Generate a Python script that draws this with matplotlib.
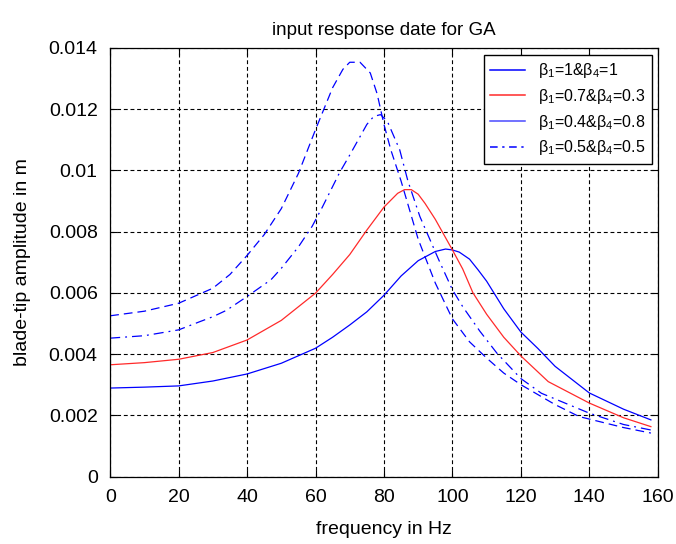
import matplotlib
matplotlib.use("Agg")
import matplotlib.pyplot as plt
from matplotlib.lines import Line2D

plt.rcParams['font.family'] = ['Liberation Sans', 'DejaVu Sans']
plt.rcParams['mathtext.fontset'] = 'custom'
plt.rcParams['mathtext.rm'] = 'Liberation Sans'
plt.rcParams['mathtext.it'] = 'Liberation Sans:italic'

# beta1=1 & beta4=1 (solid blue)
freq_a = [0, 10, 20, 30, 40, 50, 60, 65, 70, 75, 80, 85, 90, 95, 98, 100,
          102, 105, 107.5, 110, 115, 120, 125, 130, 140, 150, 158]
amp_a = [0.00289, 0.00292, 0.00296, 0.00312, 0.00335, 0.00370, 0.00419,
         0.00455, 0.00495, 0.00538, 0.00592, 0.00655, 0.00705, 0.00735,
         0.00743, 0.00740, 0.00733, 0.00710, 0.00675, 0.00638, 0.00548,
         0.00472, 0.00418, 0.00360, 0.00273, 0.00220, 0.00185]

# beta1=0.7 & beta4=0.3 (solid red)
freq_b = [0, 10, 20, 30, 40, 50, 60, 65, 70, 75, 80, 84, 86, 88, 90, 92,
          95, 97, 100, 103, 106, 110, 115, 120, 128, 140, 150, 158]
amp_b = [0.00365, 0.00372, 0.00383, 0.00405, 0.00446, 0.00510, 0.00599,
         0.00660, 0.00725, 0.00805, 0.00880, 0.00925, 0.00937, 0.00937,
         0.00922, 0.00892, 0.00840, 0.00800, 0.00740, 0.00678, 0.00600,
         0.00530, 0.00455, 0.00394, 0.00310, 0.00240, 0.00192, 0.00163]

# beta1=0.4 & beta4=0.8 (dashed blue)
freq_c = [0, 10, 20, 30, 35, 40, 45, 50, 55, 60, 65, 68, 70, 73, 76, 78,
          80, 82, 85, 90, 95, 100, 105, 110, 115, 120, 130, 137, 150, 158]
amp_c = [0.00525, 0.00540, 0.00566, 0.00615, 0.00660, 0.00722, 0.00790,
         0.00875, 0.00990, 0.01133, 0.01270, 0.01330, 0.01353, 0.01353,
         0.01318, 0.01250, 0.01150, 0.01067, 0.00965, 0.00775, 0.00632,
         0.00515, 0.00440, 0.00387, 0.00338, 0.00300, 0.00235, 0.00196,
         0.00160, 0.00142]

# beta1=0.5 & beta4=0.5 (dash-dot blue)
freq_d = [0, 10, 20, 26, 30, 34, 40, 47, 50, 55, 59, 62, 67, 70, 73, 75,
          77, 79, 81, 84.6, 87, 90.5, 96, 100, 103, 108, 113, 120, 126, 140,
          150, 158]
amp_d = [0.00452, 0.00460, 0.00479, 0.00505, 0.00522, 0.00543, 0.00588,
         0.00643, 0.00680, 0.00750, 0.00817, 0.00880, 0.00992, 0.01050,
         0.01110, 0.01150, 0.01176, 0.01182, 0.01160, 0.01067, 0.00965,
         0.00849, 0.00708, 0.00610, 0.00555, 0.00475, 0.00403, 0.00320,
         0.00272, 0.00207, 0.00170, 0.00152]

labels = [r'β$_1$=1&β$_4$=1', r'β$_1$=0.7&β$_4$=0.3',
          r'β$_1$=0.4&β$_4$=0.8', r'β$_1$=0.5&β$_4$=0.5']

xticks = [0, 20, 40, 60, 80, 100, 120, 140, 160]
yticks = [0, 0.002, 0.004, 0.006, 0.008, 0.01, 0.012, 0.014]
ytick_labels = ['0', '0.002', '0.004', '0.006', '0.008', '0.01', '0.012', '0.014']

fig = plt.figure(figsize=(6.76, 5.44), dpi=100)
ax = fig.add_axes([0.163, 0.124, 0.810, 0.788])

blue = '#0000ff'
red = '#ff2a2a'
lblue = '#4a4aff'

ax.plot(freq_a, amp_a, color=blue, lw=0.9)
ax.plot(freq_b, amp_b, color=red, lw=0.9)
ax.plot(freq_c, amp_c, color=blue, lw=0.9, linestyle=(0, (7, 4)))
ax.plot(freq_d, amp_d, color=blue, lw=0.9, linestyle=(0, (8, 4, 1.5, 4)))

ax.set_xlim(0, 160)
ax.set_ylim(0, 0.014)
ax.set_xticks(xticks)
ax.set_yticks(yticks)
ax.set_yticklabels(ytick_labels)
ax.tick_params(direction='in', length=5, width=0.8, top=True, right=True,
               labelsize=14, pad=9, colors='black')
ax.grid(True, color='black', linestyle=(0, (3.5, 2.5)), lw=0.8)
for sp in ax.spines.values():
    sp.set_linewidth(0.9)

ax.set_title('input response date for GA', fontsize=13.5, pad=9)
ax.set_xlabel('frequency in Hz', fontsize=14, labelpad=11)
ax.set_ylabel('blade-tip amplitude in m', fontsize=14, labelpad=13)

handles = [Line2D([], [], color=blue, lw=1.1),
           Line2D([], [], color=red, lw=1.1),
           Line2D([], [], color=lblue, lw=1.1),
           Line2D([], [], color=blue, lw=1.1, linestyle=(0, (5, 3, 1.5, 3)))]
leg = ax.legend(handles, labels, loc='upper right',
                bbox_to_anchor=(0.989, 0.984), borderaxespad=0,
                fontsize=11.5, fancybox=False, framealpha=1,
                edgecolor='black', handlelength=2.2, labelspacing=0.42)
leg.get_frame().set_linewidth(1.0)

fig.savefig('out.png', dpi=100)
